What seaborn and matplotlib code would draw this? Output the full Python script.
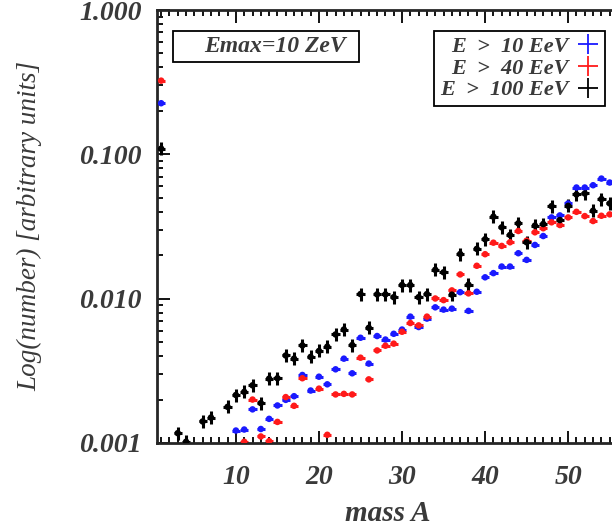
import numpy as np
import pandas as pd
import matplotlib
matplotlib.use('Agg')
import matplotlib.pyplot as plt
from matplotlib.lines import Line2D
from matplotlib.patches import Rectangle
from matplotlib.ticker import FixedLocator, MultipleLocator, LogLocator, NullFormatter
import seaborn as sns

# data (mass number A, relative number)
mass_blue = [1] + list(range(10, 56))
num_blue = [0.226,
            0.00122, 0.00124, 0.00171, 0.00125, 0.00147, 0.00182, 0.00199, 0.00211, 0.00296, 0.00231,
            0.00288, 0.00255, 0.00324, 0.00384, 0.00304, 0.00536, 0.00355, 0.00551, 0.00521, 0.00571,
            0.00611, 0.00751, 0.00636, 0.00728, 0.00871, 0.00840, 0.00853, 0.01109, 0.00823, 0.01117,
            0.01406, 0.01503, 0.01670, 0.01670, 0.02065, 0.01857, 0.02356, 0.02716, 0.03655, 0.03774,
            0.04567, 0.05891, 0.05891, 0.06109, 0.06793, 0.06377]

mass_red = [1, 11, 12, 13, 14, 15, 16, 17, 18] + list(range(20, 56))
num_red = [0.324,
           0.00102, 0.00200, 0.00111, 0.00103, 0.00140, 0.00208, 0.00181, 0.00281,
           0.00238, 0.00114, 0.00217, 0.00219, 0.00217, 0.00390, 0.00276, 0.00438, 0.00472, 0.00488,
           0.00590, 0.00678, 0.00653, 0.00751, 0.01003, 0.00977, 0.01141, 0.01472, 0.01088, 0.01690,
           0.02033, 0.02443, 0.02320, 0.02459, 0.02943, 0.02523, 0.02883, 0.03075, 0.03381, 0.03238,
           0.03655, 0.03997, 0.03733, 0.03451, 0.03753, 0.03837]

mass_black = [1, 3, 4, 6, 7] + list(range(9, 56))
num_black = [0.1094, 0.00117, 0.00102, 0.00141, 0.00150,
             0.00178, 0.00215, 0.00226, 0.00251, 0.00189, 0.00279, 0.00281, 0.00404, 0.00384, 0.00474,
             0.00395, 0.00434, 0.00465, 0.00565, 0.00611, 0.00477, 0.01076, 0.00628, 0.01071, 0.01071,
             0.01024, 0.01243, 0.01243, 0.01024, 0.01076, 0.01585, 0.01523, 0.01066, 0.02038, 0.01249,
             0.02212, 0.02580, 0.03698, 0.03121, 0.02761, 0.03327, 0.02459, 0.03207, 0.03291, 0.04374,
             0.03505, 0.04395, 0.05270, 0.05354, 0.04065, 0.04897, 0.04571]

labels = ['E > 10 EeV', 'E > 40 EeV', 'E > 100 EeV']
colors = ['#1a1aff', '#ff1a1a', 'black']

df = pd.concat([
    pd.DataFrame({'A': mass_blue, 'N': num_blue, 'cut': labels[0]}),
    pd.DataFrame({'A': mass_red, 'N': num_red, 'cut': labels[1]}),
    pd.DataFrame({'A': mass_black, 'N': num_black, 'cut': labels[2]}),
])

sns.set_style("ticks")
plt.rcParams['font.family'] = ['Liberation Serif', 'DejaVu Serif']
txt_col = '#3a3a3a'
bi = dict(style='italic', weight='bold')

fig = plt.figure(figsize=(6.12, 5.28), dpi=100)
ax = fig.add_axes([157 / 612, 1 - 443 / 528, 461 / 612, 433 / 528])

# error bars (horizontal bin width, vertical only for the >100 EeV set)
for lab, col in zip(labels, colors):
    d = df[df.cut == lab]
    if col == 'black':
        f = 10 ** 0.045
        yerr = [d.N - d.N / f, d.N * f - d.N]
    else:
        yerr = None
    ax.errorbar(d.A, d.N, xerr=0.5, yerr=yerr, fmt='none', ecolor=col,
                elinewidth=2.2, capsize=0, zorder=2)

sns.scatterplot(data=df, x='A', y='N', hue='cut', palette=colors, hue_order=labels,
                s=22, edgecolor='none', legend=False, ax=ax, zorder=3)

ax.set_yscale('log')
ax.set_xlim(0.5, 56)
ax.set_ylim(0.001, 1.0)

ax.yaxis.set_major_locator(FixedLocator([0.001, 0.01, 0.1, 1.0]))
ax.set_yticklabels(['0.001', '0.010', '0.100', '1.000'])
ax.yaxis.set_minor_locator(LogLocator(base=10, subs=np.arange(2, 10)))
ax.yaxis.set_minor_formatter(NullFormatter())
ax.xaxis.set_major_locator(MultipleLocator(10))
ax.xaxis.set_minor_locator(MultipleLocator(1))

ax.tick_params(which='both', direction='in', top=True, right=False, colors='black', width=1.3)
ax.tick_params(which='major', length=9, pad=11, labelsize=20, labelcolor=txt_col)
ax.tick_params(which='minor', length=4.5)
for t in ax.get_xticklabels() + ax.get_yticklabels():
    t.set_fontstyle('italic')
    t.set_fontweight('bold')
ax.tick_params(axis='x', which='major', pad=16)

for s in ['left', 'bottom', 'top']:
    ax.spines[s].set_linewidth(2)
ax.spines['right'].set_visible(False)

ax.set_xlabel('mass A', fontsize=21, color=txt_col, **bi)
ax.xaxis.set_label_coords((388 - 157) / 461, -(500 - 443) / 433)
ax.set_ylabel('Log(number) [arbitrary units]', fontsize=19.5, color=txt_col, style='italic')
ax.yaxis.set_label_coords(-(157 - 42) / 461, (443 - 226) / 433)

# Emax box
fig.patches.append(Rectangle((173 / 612, 1 - 62 / 528), 186 / 612, 31 / 528,
                             transform=fig.transFigure, fc='white', ec='black', lw=1.3))
fig.text(275 / 612, 1 - 47 / 528, 'Emax=10 ZeV', ha='center', va='center',
         fontsize=17, color=txt_col, **bi)

# legend, markers on the right
handles = [Line2D([], [], color=c, marker='+', ls='none', markersize=15, mew=1.3) for c in colors]
leg = ax.legend(handles, [l.replace(' > ', '  >  ') for l in labels], loc='upper right',
                bbox_to_anchor=(605 / 612, 1 - 31 / 528),
                bbox_transform=fig.transFigure, markerfirst=False, fancybox=False,
                edgecolor='black', framealpha=1, handlelength=1.0, handletextpad=0.4,
                borderpad=0.25, labelspacing=0.05, borderaxespad=0,
                prop=dict(family='Liberation Serif', style='italic', weight='bold', size=16))
leg.get_frame().set_linewidth(1.3)
for t in leg.get_texts():
    t.set_color(txt_col)

fig.savefig('out.png', dpi=100)
